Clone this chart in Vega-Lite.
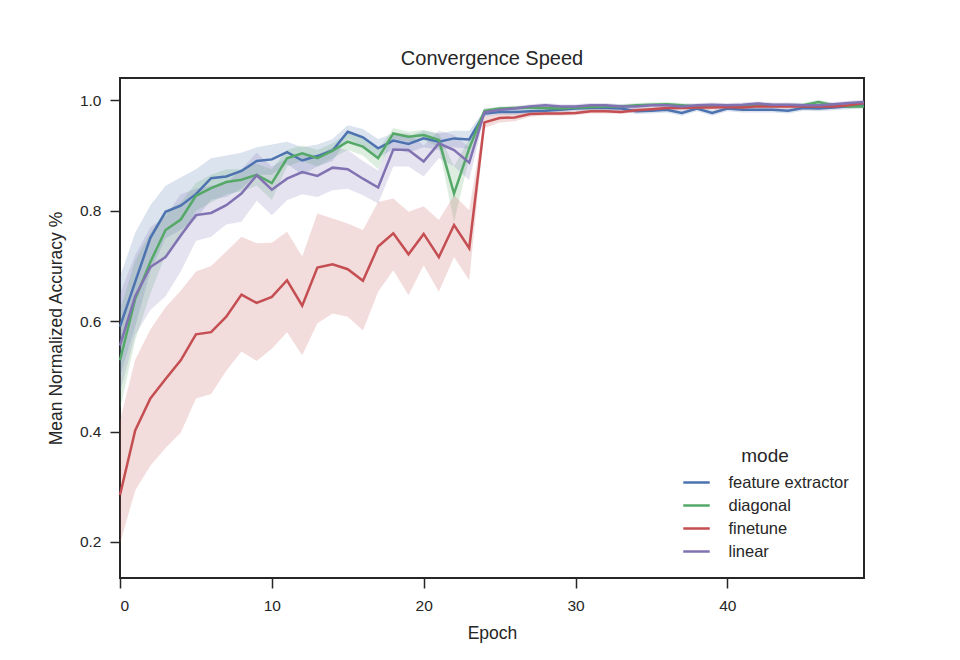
{
"$schema": "https://vega.github.io/schema/vega-lite/v6.json",
"width": 744, "height": 500,
"autosize": {"type": "none"},
"padding": {"left": 120, "top": 78, "right": 96, "bottom": 82},
"title": {"text": "Convergence Speed", "fontSize": 20, "font": "Liberation Sans", "fontWeight": "normal", "color": "#262626", "offset": 9},
"config": {
  "font": "Liberation Sans",
  "view": {"stroke": "#262626", "strokeWidth": 2},
  "axis": {"domain": false, "grid": false, "tickColor": "#262626", "tickWidth": 1.5, "tickSize": 10, "labelFontSize": 15.5, "labelColor": "#262626", "titleFontSize": 17.5, "titleFontWeight": "normal", "titleColor": "#262626", "labelFont": "Liberation Sans", "titleFont": "Liberation Sans"}
},
"data": {"values": [
{"mode":"feature extractor","epoch":0,"value":0.59,"lo":0.5,"hi":0.68},
{"mode":"feature extractor","epoch":1,"value":0.671,"lo":0.59,"hi":0.76},
{"mode":"feature extractor","epoch":2,"value":0.751,"lo":0.69,"hi":0.81},
{"mode":"feature extractor","epoch":3,"value":0.798,"lo":0.75,"hi":0.845},
{"mode":"feature extractor","epoch":4,"value":0.809,"lo":0.765,"hi":0.86},
{"mode":"feature extractor","epoch":5,"value":0.83,"lo":0.785,"hi":0.875},
{"mode":"feature extractor","epoch":6,"value":0.859,"lo":0.82,"hi":0.895},
{"mode":"feature extractor","epoch":7,"value":0.862,"lo":0.825,"hi":0.9},
{"mode":"feature extractor","epoch":8,"value":0.872,"lo":0.84,"hi":0.905},
{"mode":"feature extractor","epoch":9,"value":0.89,"lo":0.865,"hi":0.915},
{"mode":"feature extractor","epoch":10,"value":0.893,"lo":0.865,"hi":0.92},
{"mode":"feature extractor","epoch":11,"value":0.906,"lo":0.885,"hi":0.925},
{"mode":"feature extractor","epoch":12,"value":0.891,"lo":0.865,"hi":0.915},
{"mode":"feature extractor","epoch":13,"value":0.899,"lo":0.88,"hi":0.92},
{"mode":"feature extractor","epoch":14,"value":0.909,"lo":0.89,"hi":0.93},
{"mode":"feature extractor","epoch":15,"value":0.943,"lo":0.93,"hi":0.955},
{"mode":"feature extractor","epoch":16,"value":0.933,"lo":0.918,"hi":0.948},
{"mode":"feature extractor","epoch":17,"value":0.913,"lo":0.895,"hi":0.93},
{"mode":"feature extractor","epoch":18,"value":0.927,"lo":0.912,"hi":0.94},
{"mode":"feature extractor","epoch":19,"value":0.921,"lo":0.905,"hi":0.935},
{"mode":"feature extractor","epoch":20,"value":0.931,"lo":0.915,"hi":0.945},
{"mode":"feature extractor","epoch":21,"value":0.925,"lo":0.91,"hi":0.94},
{"mode":"feature extractor","epoch":22,"value":0.931,"lo":0.915,"hi":0.945},
{"mode":"feature extractor","epoch":23,"value":0.929,"lo":0.912,"hi":0.945},
{"mode":"feature extractor","epoch":24,"value":0.976,"lo":0.970,"hi":0.982},
{"mode":"feature extractor","epoch":25,"value":0.979,"lo":0.974,"hi":0.984},
{"mode":"feature extractor","epoch":26,"value":0.979,"lo":0.974,"hi":0.984},
{"mode":"feature extractor","epoch":27,"value":0.980,"lo":0.975,"hi":0.985},
{"mode":"feature extractor","epoch":28,"value":0.981,"lo":0.976,"hi":0.986},
{"mode":"feature extractor","epoch":29,"value":0.983,"lo":0.978,"hi":0.988},
{"mode":"feature extractor","epoch":30,"value":0.985,"lo":0.980,"hi":0.990},
{"mode":"feature extractor","epoch":31,"value":0.986,"lo":0.981,"hi":0.991},
{"mode":"feature extractor","epoch":32,"value":0.986,"lo":0.981,"hi":0.991},
{"mode":"feature extractor","epoch":33,"value":0.985,"lo":0.980,"hi":0.990},
{"mode":"feature extractor","epoch":34,"value":0.980,"lo":0.975,"hi":0.985},
{"mode":"feature extractor","epoch":35,"value":0.981,"lo":0.976,"hi":0.986},
{"mode":"feature extractor","epoch":36,"value":0.983,"lo":0.978,"hi":0.988},
{"mode":"feature extractor","epoch":37,"value":0.977,"lo":0.972,"hi":0.982},
{"mode":"feature extractor","epoch":38,"value":0.985,"lo":0.980,"hi":0.990},
{"mode":"feature extractor","epoch":39,"value":0.977,"lo":0.972,"hi":0.982},
{"mode":"feature extractor","epoch":40,"value":0.985,"lo":0.980,"hi":0.990},
{"mode":"feature extractor","epoch":41,"value":0.983,"lo":0.978,"hi":0.988},
{"mode":"feature extractor","epoch":42,"value":0.983,"lo":0.978,"hi":0.988},
{"mode":"feature extractor","epoch":43,"value":0.983,"lo":0.978,"hi":0.988},
{"mode":"feature extractor","epoch":44,"value":0.981,"lo":0.976,"hi":0.986},
{"mode":"feature extractor","epoch":45,"value":0.986,"lo":0.981,"hi":0.991},
{"mode":"feature extractor","epoch":46,"value":0.985,"lo":0.980,"hi":0.990},
{"mode":"feature extractor","epoch":47,"value":0.987,"lo":0.982,"hi":0.992},
{"mode":"feature extractor","epoch":48,"value":0.989,"lo":0.984,"hi":0.994},
{"mode":"feature extractor","epoch":49,"value":0.991,"lo":0.986,"hi":0.996},
{"mode":"diagonal","epoch":0,"value":0.529,"lo":0.44,"hi":0.62},
{"mode":"diagonal","epoch":1,"value":0.64,"lo":0.565,"hi":0.71},
{"mode":"diagonal","epoch":2,"value":0.707,"lo":0.65,"hi":0.76},
{"mode":"diagonal","epoch":3,"value":0.765,"lo":0.72,"hi":0.8},
{"mode":"diagonal","epoch":4,"value":0.784,"lo":0.75,"hi":0.815},
{"mode":"diagonal","epoch":5,"value":0.827,"lo":0.8,"hi":0.85},
{"mode":"diagonal","epoch":6,"value":0.841,"lo":0.815,"hi":0.865},
{"mode":"diagonal","epoch":7,"value":0.852,"lo":0.83,"hi":0.875},
{"mode":"diagonal","epoch":8,"value":0.856,"lo":0.835,"hi":0.875},
{"mode":"diagonal","epoch":9,"value":0.865,"lo":0.845,"hi":0.885},
{"mode":"diagonal","epoch":10,"value":0.85,"lo":0.82,"hi":0.875},
{"mode":"diagonal","epoch":11,"value":0.895,"lo":0.88,"hi":0.91},
{"mode":"diagonal","epoch":12,"value":0.904,"lo":0.89,"hi":0.918},
{"mode":"diagonal","epoch":13,"value":0.895,"lo":0.88,"hi":0.91},
{"mode":"diagonal","epoch":14,"value":0.909,"lo":0.895,"hi":0.922},
{"mode":"diagonal","epoch":15,"value":0.925,"lo":0.91,"hi":0.94},
{"mode":"diagonal","epoch":16,"value":0.916,"lo":0.9,"hi":0.932},
{"mode":"diagonal","epoch":17,"value":0.895,"lo":0.875,"hi":0.91},
{"mode":"diagonal","epoch":18,"value":0.94,"lo":0.93,"hi":0.95},
{"mode":"diagonal","epoch":19,"value":0.934,"lo":0.925,"hi":0.943},
{"mode":"diagonal","epoch":20,"value":0.937,"lo":0.928,"hi":0.946},
{"mode":"diagonal","epoch":21,"value":0.928,"lo":0.915,"hi":0.94},
{"mode":"diagonal","epoch":22,"value":0.831,"lo":0.78,"hi":0.88},
{"mode":"diagonal","epoch":23,"value":0.913,"lo":0.895,"hi":0.93},
{"mode":"diagonal","epoch":24,"value":0.981,"lo":0.977,"hi":0.985},
{"mode":"diagonal","epoch":25,"value":0.985,"lo":0.981,"hi":0.989},
{"mode":"diagonal","epoch":26,"value":0.986,"lo":0.982,"hi":0.990},
{"mode":"diagonal","epoch":27,"value":0.987,"lo":0.983,"hi":0.991},
{"mode":"diagonal","epoch":28,"value":0.986,"lo":0.982,"hi":0.990},
{"mode":"diagonal","epoch":29,"value":0.985,"lo":0.981,"hi":0.989},
{"mode":"diagonal","epoch":30,"value":0.987,"lo":0.983,"hi":0.991},
{"mode":"diagonal","epoch":31,"value":0.988,"lo":0.984,"hi":0.992},
{"mode":"diagonal","epoch":32,"value":0.989,"lo":0.985,"hi":0.993},
{"mode":"diagonal","epoch":33,"value":0.989,"lo":0.985,"hi":0.993},
{"mode":"diagonal","epoch":34,"value":0.991,"lo":0.987,"hi":0.995},
{"mode":"diagonal","epoch":35,"value":0.992,"lo":0.988,"hi":0.996},
{"mode":"diagonal","epoch":36,"value":0.993,"lo":0.989,"hi":0.997},
{"mode":"diagonal","epoch":37,"value":0.991,"lo":0.987,"hi":0.995},
{"mode":"diagonal","epoch":38,"value":0.989,"lo":0.985,"hi":0.993},
{"mode":"diagonal","epoch":39,"value":0.989,"lo":0.985,"hi":0.993},
{"mode":"diagonal","epoch":40,"value":0.989,"lo":0.985,"hi":0.993},
{"mode":"diagonal","epoch":41,"value":0.989,"lo":0.985,"hi":0.993},
{"mode":"diagonal","epoch":42,"value":0.992,"lo":0.988,"hi":0.996},
{"mode":"diagonal","epoch":43,"value":0.991,"lo":0.987,"hi":0.995},
{"mode":"diagonal","epoch":44,"value":0.991,"lo":0.987,"hi":0.995},
{"mode":"diagonal","epoch":45,"value":0.991,"lo":0.987,"hi":0.995},
{"mode":"diagonal","epoch":46,"value":0.997,"lo":0.993,"hi":1.001},
{"mode":"diagonal","epoch":47,"value":0.991,"lo":0.987,"hi":0.995},
{"mode":"diagonal","epoch":48,"value":0.989,"lo":0.985,"hi":0.993},
{"mode":"diagonal","epoch":49,"value":0.989,"lo":0.985,"hi":0.993},
{"mode":"finetune","epoch":0,"value":0.285,"lo":0.197,"hi":0.42},
{"mode":"finetune","epoch":1,"value":0.402,"lo":0.293,"hi":0.53},
{"mode":"finetune","epoch":2,"value":0.46,"lo":0.338,"hi":0.585},
{"mode":"finetune","epoch":3,"value":0.495,"lo":0.37,"hi":0.625},
{"mode":"finetune","epoch":4,"value":0.529,"lo":0.398,"hi":0.655},
{"mode":"finetune","epoch":5,"value":0.576,"lo":0.46,"hi":0.69},
{"mode":"finetune","epoch":6,"value":0.58,"lo":0.468,"hi":0.7},
{"mode":"finetune","epoch":7,"value":0.608,"lo":0.51,"hi":0.726},
{"mode":"finetune","epoch":8,"value":0.648,"lo":0.545,"hi":0.753},
{"mode":"finetune","epoch":9,"value":0.633,"lo":0.528,"hi":0.741},
{"mode":"finetune","epoch":10,"value":0.644,"lo":0.55,"hi":0.742},
{"mode":"finetune","epoch":11,"value":0.674,"lo":0.58,"hi":0.762},
{"mode":"finetune","epoch":12,"value":0.628,"lo":0.538,"hi":0.717},
{"mode":"finetune","epoch":13,"value":0.697,"lo":0.596,"hi":0.795},
{"mode":"finetune","epoch":14,"value":0.703,"lo":0.614,"hi":0.786},
{"mode":"finetune","epoch":15,"value":0.694,"lo":0.608,"hi":0.777},
{"mode":"finetune","epoch":16,"value":0.673,"lo":0.583,"hi":0.765},
{"mode":"finetune","epoch":17,"value":0.735,"lo":0.653,"hi":0.816},
{"mode":"finetune","epoch":18,"value":0.759,"lo":0.692,"hi":0.822},
{"mode":"finetune","epoch":19,"value":0.721,"lo":0.647,"hi":0.798},
{"mode":"finetune","epoch":20,"value":0.758,"lo":0.701,"hi":0.808},
{"mode":"finetune","epoch":21,"value":0.716,"lo":0.653,"hi":0.783},
{"mode":"finetune","epoch":22,"value":0.774,"lo":0.716,"hi":0.828},
{"mode":"finetune","epoch":23,"value":0.732,"lo":0.674,"hi":0.801},
{"mode":"finetune","epoch":24,"value":0.96,"lo":0.95,"hi":0.97},
{"mode":"finetune","epoch":25,"value":0.968,"lo":0.96,"hi":0.976},
{"mode":"finetune","epoch":26,"value":0.969,"lo":0.962,"hi":0.976},
{"mode":"finetune","epoch":27,"value":0.975,"lo":0.97,"hi":0.98},
{"mode":"finetune","epoch":28,"value":0.976,"lo":0.972,"hi":0.98},
{"mode":"finetune","epoch":29,"value":0.976,"lo":0.972,"hi":0.98},
{"mode":"finetune","epoch":30,"value":0.977,"lo":0.973,"hi":0.981},
{"mode":"finetune","epoch":31,"value":0.98,"lo":0.976,"hi":0.984},
{"mode":"finetune","epoch":32,"value":0.98,"lo":0.976,"hi":0.984},
{"mode":"finetune","epoch":33,"value":0.979,"lo":0.975,"hi":0.983},
{"mode":"finetune","epoch":34,"value":0.982,"lo":0.978,"hi":0.986},
{"mode":"finetune","epoch":35,"value":0.984,"lo":0.98,"hi":0.988},
{"mode":"finetune","epoch":36,"value":0.986,"lo":0.982,"hi":0.99},
{"mode":"finetune","epoch":37,"value":0.986,"lo":0.982,"hi":0.99},
{"mode":"finetune","epoch":38,"value":0.987,"lo":0.983,"hi":0.991},
{"mode":"finetune","epoch":39,"value":0.987,"lo":0.983,"hi":0.991},
{"mode":"finetune","epoch":40,"value":0.988,"lo":0.984,"hi":0.992},
{"mode":"finetune","epoch":41,"value":0.987,"lo":0.983,"hi":0.991},
{"mode":"finetune","epoch":42,"value":0.989,"lo":0.985,"hi":0.993},
{"mode":"finetune","epoch":43,"value":0.989,"lo":0.985,"hi":0.993},
{"mode":"finetune","epoch":44,"value":0.989,"lo":0.985,"hi":0.993},
{"mode":"finetune","epoch":45,"value":0.989,"lo":0.985,"hi":0.993},
{"mode":"finetune","epoch":46,"value":0.989,"lo":0.985,"hi":0.993},
{"mode":"finetune","epoch":47,"value":0.989,"lo":0.985,"hi":0.993},
{"mode":"finetune","epoch":48,"value":0.991,"lo":0.987,"hi":0.995},
{"mode":"finetune","epoch":49,"value":0.995,"lo":0.991,"hi":0.999},
{"mode":"linear","epoch":0,"value":0.556,"lo":0.47,"hi":0.65},
{"mode":"linear","epoch":1,"value":0.645,"lo":0.575,"hi":0.72},
{"mode":"linear","epoch":2,"value":0.698,"lo":0.62,"hi":0.77},
{"mode":"linear","epoch":3,"value":0.716,"lo":0.645,"hi":0.79},
{"mode":"linear","epoch":4,"value":0.755,"lo":0.69,"hi":0.83},
{"mode":"linear","epoch":5,"value":0.792,"lo":0.745,"hi":0.84},
{"mode":"linear","epoch":6,"value":0.796,"lo":0.753,"hi":0.845},
{"mode":"linear","epoch":7,"value":0.81,"lo":0.775,"hi":0.85},
{"mode":"linear","epoch":8,"value":0.831,"lo":0.78,"hi":0.875},
{"mode":"linear","epoch":9,"value":0.864,"lo":0.818,"hi":0.905},
{"mode":"linear","epoch":10,"value":0.838,"lo":0.792,"hi":0.88},
{"mode":"linear","epoch":11,"value":0.858,"lo":0.819,"hi":0.895},
{"mode":"linear","epoch":12,"value":0.87,"lo":0.83,"hi":0.905},
{"mode":"linear","epoch":13,"value":0.863,"lo":0.825,"hi":0.9},
{"mode":"linear","epoch":14,"value":0.878,"lo":0.837,"hi":0.915},
{"mode":"linear","epoch":15,"value":0.875,"lo":0.84,"hi":0.91},
{"mode":"linear","epoch":16,"value":0.858,"lo":0.828,"hi":0.89},
{"mode":"linear","epoch":17,"value":0.842,"lo":0.813,"hi":0.873},
{"mode":"linear","epoch":18,"value":0.911,"lo":0.88,"hi":0.94},
{"mode":"linear","epoch":19,"value":0.91,"lo":0.88,"hi":0.94},
{"mode":"linear","epoch":20,"value":0.889,"lo":0.862,"hi":0.918},
{"mode":"linear","epoch":21,"value":0.922,"lo":0.895,"hi":0.945},
{"mode":"linear","epoch":22,"value":0.91,"lo":0.88,"hi":0.937},
{"mode":"linear","epoch":23,"value":0.887,"lo":0.855,"hi":0.915},
{"mode":"linear","epoch":24,"value":0.978,"lo":0.97,"hi":0.985},
{"mode":"linear","epoch":25,"value":0.983,"lo":0.979,"hi":0.987},
{"mode":"linear","epoch":26,"value":0.985,"lo":0.981,"hi":0.989},
{"mode":"linear","epoch":27,"value":0.989,"lo":0.985,"hi":0.993},
{"mode":"linear","epoch":28,"value":0.991,"lo":0.987,"hi":0.995},
{"mode":"linear","epoch":29,"value":0.989,"lo":0.985,"hi":0.993},
{"mode":"linear","epoch":30,"value":0.989,"lo":0.985,"hi":0.993},
{"mode":"linear","epoch":31,"value":0.991,"lo":0.987,"hi":0.995},
{"mode":"linear","epoch":32,"value":0.991,"lo":0.987,"hi":0.995},
{"mode":"linear","epoch":33,"value":0.989,"lo":0.985,"hi":0.993},
{"mode":"linear","epoch":34,"value":0.989,"lo":0.985,"hi":0.993},
{"mode":"linear","epoch":35,"value":0.991,"lo":0.987,"hi":0.995},
{"mode":"linear","epoch":36,"value":0.991,"lo":0.987,"hi":0.995},
{"mode":"linear","epoch":37,"value":0.989,"lo":0.985,"hi":0.993},
{"mode":"linear","epoch":38,"value":0.991,"lo":0.987,"hi":0.995},
{"mode":"linear","epoch":39,"value":0.992,"lo":0.988,"hi":0.996},
{"mode":"linear","epoch":40,"value":0.991,"lo":0.987,"hi":0.995},
{"mode":"linear","epoch":41,"value":0.992,"lo":0.988,"hi":0.996},
{"mode":"linear","epoch":42,"value":0.994,"lo":0.99,"hi":0.998},
{"mode":"linear","epoch":43,"value":0.992,"lo":0.988,"hi":0.996},
{"mode":"linear","epoch":44,"value":0.992,"lo":0.988,"hi":0.996},
{"mode":"linear","epoch":45,"value":0.991,"lo":0.987,"hi":0.995},
{"mode":"linear","epoch":46,"value":0.991,"lo":0.987,"hi":0.995},
{"mode":"linear","epoch":47,"value":0.993,"lo":0.989,"hi":0.997},
{"mode":"linear","epoch":48,"value":0.995,"lo":0.991,"hi":0.999},
{"mode":"linear","epoch":49,"value":0.997,"lo":0.993,"hi":1.001}
]},
"layer": [
  {"mark": {"type": "area", "opacity": 0.2},
   "encoding": {
     "x": {"field": "epoch", "type": "quantitative", "scale": {"domain": [0, 49], "nice": false, "zero": false},
           "axis": {"values": [0, 10, 20, 30, 40], "title": "Epoch", "labelPadding": 10, "titlePadding": 11}},
     "y": {"field": "lo", "type": "quantitative", "scale": {"domain": [0.1347, 1.0404], "nice": false, "zero": false},
           "axis": {"values": [0.2, 0.4, 0.6, 0.8, 1.0], "format": ".1f", "title": "Mean Normalized Accuracy %", "labelPadding": 9, "titlePadding": 14}},
     "y2": {"field": "hi"},
     "color": {"field": "mode", "type": "nominal",
              "scale": {"domain": ["feature extractor", "diagonal", "finetune", "linear"], "range": ["#4C72B0", "#55A868", "#C44E52", "#8172B2"]},
              "legend": {"title": "mode", "orient": "none", "legendX": 562, "legendY": 369, "symbolType": "stroke", "symbolSize": 700, "symbolStrokeWidth": 2.5, "symbolOpacity": 1, "labelFontSize": 16.5, "titleFontSize": 19, "titleFontWeight": "normal", "labelColor": "#262626", "titleColor": "#262626", "titleAnchor": "middle", "rowPadding": 0, "labelOffset": 17.5, "titlePadding": 2, "labelFont": "Liberation Sans", "titleFont": "Liberation Sans"}}
   }},
  {"mark": {"type": "line", "strokeWidth": 2.5},
   "encoding": {
     "x": {"field": "epoch", "type": "quantitative"},
     "y": {"field": "value", "type": "quantitative"},
     "color": {"field": "mode", "type": "nominal"}
   }}
]
}
